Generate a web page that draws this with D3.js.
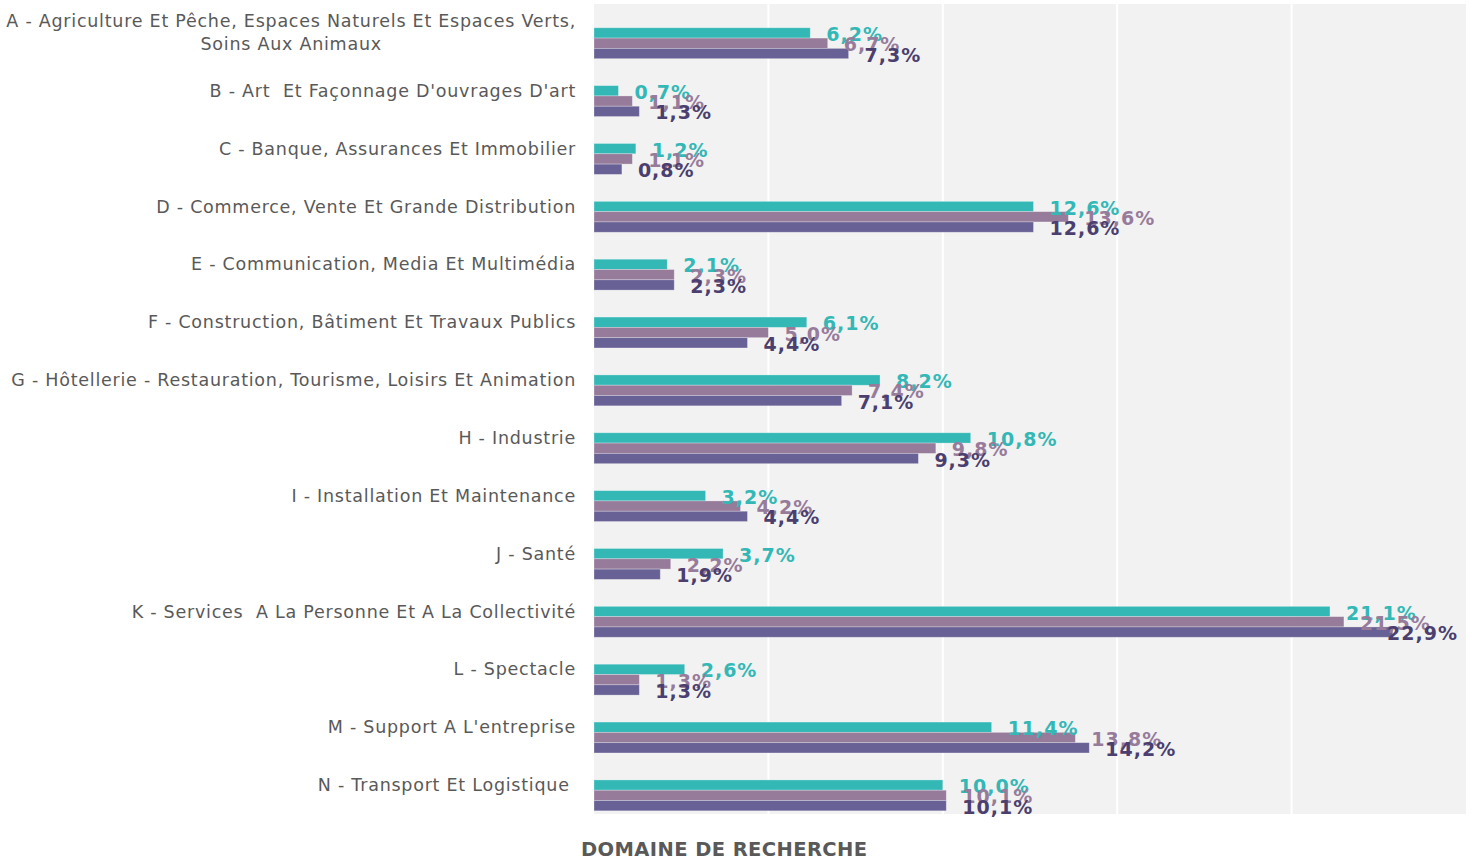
<!DOCTYPE html>
<html>
<head>
<meta charset="utf-8">
<script src="https://cdn.jsdelivr.net/npm/d3@7/dist/d3.min.js"></script>
<style>
html,body{margin:0;padding:0;background:#fff;}
svg{display:block;}
</style>
</head>
<body>
<svg id="chart" width="1472" height="860"></svg>
<script>
const categories = [
  "A - Agriculture Et Pêche, Espaces Naturels Et Espaces Verts,|Soins Aux Animaux",
  "B - Art  Et Façonnage D'ouvrages D'art",
  "C - Banque, Assurances Et Immobilier",
  "D - Commerce, Vente Et Grande Distribution",
  "E - Communication, Media Et Multimédia",
  "F - Construction, Bâtiment Et Travaux Publics",
  "G - Hôtellerie - Restauration, Tourisme, Loisirs Et Animation",
  "H - Industrie",
  "I - Installation Et Maintenance",
  "J - Santé",
  "K - Services  A La Personne Et A La Collectivité",
  "L - Spectacle",
  "M - Support A L'entreprise",
  "N - Transport Et Logistique "
];
const series1 = [6.2, 0.7, 1.2, 12.6, 2.1, 6.1, 8.2, 10.8, 3.2, 3.7, 21.1, 2.6, 11.4, 10.0];
const series2 = [6.7, 1.1, 1.1, 13.6, 2.3, 5.0, 7.4, 9.8, 4.2, 2.2, 21.5, 1.3, 13.8, 10.1];
const series3 = [7.3, 1.3, 0.8, 12.6, 2.3, 4.4, 7.1, 9.3, 4.4, 1.9, 22.9, 1.3, 14.2, 10.1];
const seriesList = [series1, series2, series3];
const barColors = ["#33b8b6", "#977b9a", "#686195"];
const labelColors = ["#33b8b6", "#977b9a", "#4a3f6e"];
const gridTicks = [0, 5, 10, 15, 20, 25];
const axisTitle = "DOMAINE DE RECHERCHE";

const svg = d3.select("#chart");
const plot = {left: 594, right: 1466, top: 4, bottom: 814};

const x = d3.scaleLinear().domain([0, 25]).range([plot.left, plot.right]);
const y = d3.scaleBand().domain(categories).range([plot.top, plot.bottom]).padding(0);
const barH = 10.3;

svg.append("rect")
  .attr("x", plot.left).attr("y", plot.top)
  .attr("width", plot.right - plot.left).attr("height", plot.bottom - plot.top)
  .attr("fill", "#f2f2f2");

svg.append("g").selectAll("line")
  .data(gridTicks.slice(1, -1))
  .join("line")
  .attr("x1", d => x(d)).attr("x2", d => x(d))
  .attr("y1", plot.top).attr("y2", plot.bottom)
  .attr("stroke", "#ffffff").attr("stroke-width", 2);

const center = c => y(c) + y.bandwidth() / 2;

seriesList.forEach((vals, si) => {
  const g = svg.append("g");
  g.selectAll("rect")
    .data(categories.map((c, i) => ({c, v: vals[i]})))
    .join("rect")
    .attr("x", x(0))
    .attr("y", d => center(d.c) - barH / 2 + si * barH)
    .attr("width", d => x(d.v) - x(0))
    .attr("height", barH)
    .attr("fill", barColors[si])
    .attr("stroke", "rgba(255,255,255,0.35)")
    .attr("stroke-width", 0.8);
});

const maxRight = 1458;
seriesList.forEach((vals, si) => {
  svg.append("g").selectAll("text")
    .data(categories.map((c, i) => ({c, v: vals[i]})))
    .join("text")
    .attr("x", d => x(d.v) + 16)
    .attr("y", d => center(d.c) + si * barH + 1)
    .attr("dominant-baseline", "central")
    .attr("font-family", "DejaVu Sans, Verdana, sans-serif")
    .attr("font-weight", "bold")
    .attr("font-size", 19)
    .attr("letter-spacing", 1)
    .attr("fill", labelColors[si])
    .text(d => d.v.toFixed(1).replace(".", ",") + "%")
    .each(function(d) {
      const w = this.getComputedTextLength();
      const x0 = x(d.v) + 16;
      if (x0 + w > maxRight) d3.select(this).attr("x", maxRight - w);
    });
});

const lab = svg.append("g");
categories.forEach(c => {
  const lines = c.split("|");
  const t = lab.append("text")
    .attr("text-anchor", "end")
    .attr("font-family", "DejaVu Sans, Verdana, sans-serif")
    .attr("font-size", 17.5)
    .attr("letter-spacing", 0.75)
    .attr("fill", "#595959");
  const lh = 23;
  lines.forEach((ln, k) => {
    t.append("tspan")
      .attr("x", 576)
      .attr("y", center(c) + (k - (lines.length - 1) / 2) * lh)
      .attr("dominant-baseline", "central")
      .attr("text-anchor", lines.length > 1 && k > 0 ? "middle" : "end")
      .attr("xml:space", "preserve")
      .text(ln);
  });
});
lab.selectAll("text").each(function() {
  const tsp = d3.select(this).selectAll("tspan");
  if (tsp.size() > 1) {
    const first = tsp.nodes()[0];
    const w = first.getComputedTextLength();
    d3.select(tsp.nodes()[1]).attr("x", 576 - w / 2);
  }
});

svg.append("text")
  .attr("x", 581).attr("y", 849)
  .attr("dominant-baseline", "central")
  .attr("font-family", "DejaVu Sans, Verdana, sans-serif")
  .attr("font-weight", "bold")
  .attr("font-size", 19.5)
  .attr("letter-spacing", 0.4)
  .attr("fill", "#595959")
  .text(axisTitle);
</script>
</body>
</html>
